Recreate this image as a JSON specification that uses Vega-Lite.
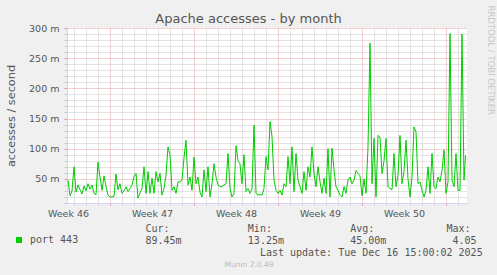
{
  "$schema": "https://vega.github.io/schema/vega-lite/v6.json",
  "width": 400,
  "height": 175,
  "autosize": {"type": "none"},
  "padding": {"left": 67, "top": 28, "right": 30, "bottom": 72},
  "background": "#F0F0F0",
  "config": {"font": "DejaVu Sans", "view": {"fill": "#FFFFFF", "stroke": null}},
  "title": {"text": "Apache accesses - by month", "frame": "group", "fontSize": 13, "fontWeight": "normal", "color": "#555555", "anchor": "middle", "dx": -18.5, "dy": 35, "baseline": "alphabetic", "offset": 4.5},
  "data": {
    "format": {"parse": {"t": "utc:'%Y-%m-%d %H:%M'"}},
    "values": [
      {"t": "2025-11-13 12:00", "v": 48}, {"t": "2025-11-13 16:00", "v": 22}, {"t": "2025-11-13 20:00", "v": 30},
      {"t": "2025-11-14 00:00", "v": 70}, {"t": "2025-11-14 04:00", "v": 28}, {"t": "2025-11-14 08:00", "v": 40}, {"t": "2025-11-14 12:00", "v": 32}, {"t": "2025-11-14 16:00", "v": 25}, {"t": "2025-11-14 20:00", "v": 38},
      {"t": "2025-11-15 00:00", "v": 30}, {"t": "2025-11-15 04:00", "v": 42}, {"t": "2025-11-15 08:00", "v": 33}, {"t": "2025-11-15 12:00", "v": 40}, {"t": "2025-11-15 16:00", "v": 26}, {"t": "2025-11-15 20:00", "v": 24},
      {"t": "2025-11-16 00:00", "v": 78}, {"t": "2025-11-16 04:00", "v": 53}, {"t": "2025-11-16 08:00", "v": 31}, {"t": "2025-11-16 12:00", "v": 55}, {"t": "2025-11-16 16:00", "v": 37}, {"t": "2025-11-16 20:00", "v": 23},
      {"t": "2025-11-17 00:00", "v": 20}, {"t": "2025-11-17 04:00", "v": 20}, {"t": "2025-11-17 08:00", "v": 21}, {"t": "2025-11-17 12:00", "v": 58}, {"t": "2025-11-17 16:00", "v": 32}, {"t": "2025-11-17 20:00", "v": 42},
      {"t": "2025-11-18 00:00", "v": 26}, {"t": "2025-11-18 04:00", "v": 30}, {"t": "2025-11-18 08:00", "v": 37}, {"t": "2025-11-18 12:00", "v": 29}, {"t": "2025-11-18 16:00", "v": 34}, {"t": "2025-11-18 20:00", "v": 40},
      {"t": "2025-11-19 00:00", "v": 54}, {"t": "2025-11-19 04:00", "v": 59}, {"t": "2025-11-19 08:00", "v": 18}, {"t": "2025-11-19 12:00", "v": 27}, {"t": "2025-11-19 16:00", "v": 34}, {"t": "2025-11-19 20:00", "v": 70},
      {"t": "2025-11-20 00:00", "v": 26}, {"t": "2025-11-20 04:00", "v": 62}, {"t": "2025-11-20 08:00", "v": 26}, {"t": "2025-11-20 12:00", "v": 51}, {"t": "2025-11-20 16:00", "v": 26}, {"t": "2025-11-20 20:00", "v": 62},
      {"t": "2025-11-21 00:00", "v": 45}, {"t": "2025-11-21 04:00", "v": 59}, {"t": "2025-11-21 08:00", "v": 23}, {"t": "2025-11-21 12:00", "v": 34}, {"t": "2025-11-21 16:00", "v": 57}, {"t": "2025-11-21 20:00", "v": 103},
      {"t": "2025-11-22 00:00", "v": 90}, {"t": "2025-11-22 04:00", "v": 31}, {"t": "2025-11-22 08:00", "v": 37}, {"t": "2025-11-22 12:00", "v": 26}, {"t": "2025-11-22 16:00", "v": 45}, {"t": "2025-11-22 20:00", "v": 45},
      {"t": "2025-11-23 00:00", "v": 48}, {"t": "2025-11-23 04:00", "v": 85}, {"t": "2025-11-23 08:00", "v": 114}, {"t": "2025-11-23 12:00", "v": 40}, {"t": "2025-11-23 16:00", "v": 53}, {"t": "2025-11-23 20:00", "v": 31},
      {"t": "2025-11-24 00:00", "v": 86}, {"t": "2025-11-24 04:00", "v": 42}, {"t": "2025-11-24 08:00", "v": 53}, {"t": "2025-11-24 12:00", "v": 28}, {"t": "2025-11-24 16:00", "v": 20}, {"t": "2025-11-24 20:00", "v": 65},
      {"t": "2025-11-25 00:00", "v": 29}, {"t": "2025-11-25 04:00", "v": 70}, {"t": "2025-11-25 08:00", "v": 20}, {"t": "2025-11-25 12:00", "v": 42}, {"t": "2025-11-25 16:00", "v": 75}, {"t": "2025-11-25 20:00", "v": 53},
      {"t": "2025-11-26 00:00", "v": 40}, {"t": "2025-11-26 04:00", "v": 37}, {"t": "2025-11-26 08:00", "v": 37}, {"t": "2025-11-26 12:00", "v": 40}, {"t": "2025-11-26 16:00", "v": 42}, {"t": "2025-11-26 20:00", "v": 92},
      {"t": "2025-11-27 00:00", "v": 34}, {"t": "2025-11-27 04:00", "v": 20}, {"t": "2025-11-27 08:00", "v": 26}, {"t": "2025-11-27 12:00", "v": 105}, {"t": "2025-11-27 16:00", "v": 80}, {"t": "2025-11-27 20:00", "v": 75},
      {"t": "2025-11-28 00:00", "v": 42}, {"t": "2025-11-28 04:00", "v": 90}, {"t": "2025-11-28 08:00", "v": 29}, {"t": "2025-11-28 12:00", "v": 34}, {"t": "2025-11-28 16:00", "v": 26}, {"t": "2025-11-28 20:00", "v": 34},
      {"t": "2025-11-29 00:00", "v": 139}, {"t": "2025-11-29 04:00", "v": 26}, {"t": "2025-11-29 08:00", "v": 23}, {"t": "2025-11-29 12:00", "v": 24}, {"t": "2025-11-29 16:00", "v": 23}, {"t": "2025-11-29 20:00", "v": 34},
      {"t": "2025-11-30 00:00", "v": 87}, {"t": "2025-11-30 04:00", "v": 65}, {"t": "2025-11-30 08:00", "v": 145}, {"t": "2025-11-30 12:00", "v": 120}, {"t": "2025-11-30 16:00", "v": 48}, {"t": "2025-11-30 20:00", "v": 31},
      {"t": "2025-12-01 00:00", "v": 26}, {"t": "2025-12-01 04:00", "v": 31}, {"t": "2025-12-01 08:00", "v": 23}, {"t": "2025-12-01 12:00", "v": 42}, {"t": "2025-12-01 16:00", "v": 37}, {"t": "2025-12-01 20:00", "v": 87},
      {"t": "2025-12-02 00:00", "v": 42}, {"t": "2025-12-02 04:00", "v": 103}, {"t": "2025-12-02 08:00", "v": 29}, {"t": "2025-12-02 12:00", "v": 92}, {"t": "2025-12-02 16:00", "v": 48}, {"t": "2025-12-02 20:00", "v": 37},
      {"t": "2025-12-03 00:00", "v": 26}, {"t": "2025-12-03 04:00", "v": 62}, {"t": "2025-12-03 08:00", "v": 31}, {"t": "2025-12-03 12:00", "v": 70}, {"t": "2025-12-03 16:00", "v": 53}, {"t": "2025-12-03 20:00", "v": 103},
      {"t": "2025-12-04 00:00", "v": 59}, {"t": "2025-12-04 04:00", "v": 37}, {"t": "2025-12-04 08:00", "v": 70}, {"t": "2025-12-04 12:00", "v": 45}, {"t": "2025-12-04 16:00", "v": 26}, {"t": "2025-12-04 20:00", "v": 51},
      {"t": "2025-12-05 00:00", "v": 26}, {"t": "2025-12-05 04:00", "v": 100}, {"t": "2025-12-05 08:00", "v": 20}, {"t": "2025-12-05 12:00", "v": 101}, {"t": "2025-12-05 16:00", "v": 65}, {"t": "2025-12-05 20:00", "v": 37},
      {"t": "2025-12-06 00:00", "v": 31}, {"t": "2025-12-06 04:00", "v": 23}, {"t": "2025-12-06 08:00", "v": 20}, {"t": "2025-12-06 12:00", "v": 37}, {"t": "2025-12-06 16:00", "v": 26}, {"t": "2025-12-06 20:00", "v": 48},
      {"t": "2025-12-07 00:00", "v": 53}, {"t": "2025-12-07 04:00", "v": 42}, {"t": "2025-12-07 08:00", "v": 48}, {"t": "2025-12-07 12:00", "v": 64}, {"t": "2025-12-07 16:00", "v": 59}, {"t": "2025-12-07 20:00", "v": 55},
      {"t": "2025-12-08 00:00", "v": 22}, {"t": "2025-12-08 04:00", "v": 50}, {"t": "2025-12-08 08:00", "v": 26}, {"t": "2025-12-08 12:00", "v": 103}, {"t": "2025-12-08 16:00", "v": 275}, {"t": "2025-12-08 20:00", "v": 42},
      {"t": "2025-12-09 00:00", "v": 117}, {"t": "2025-12-09 04:00", "v": 20}, {"t": "2025-12-09 08:00", "v": 122}, {"t": "2025-12-09 12:00", "v": 119}, {"t": "2025-12-09 16:00", "v": 59}, {"t": "2025-12-09 20:00", "v": 80},
      {"t": "2025-12-10 00:00", "v": 117}, {"t": "2025-12-10 04:00", "v": 37}, {"t": "2025-12-10 08:00", "v": 34}, {"t": "2025-12-10 12:00", "v": 32}, {"t": "2025-12-10 16:00", "v": 92}, {"t": "2025-12-10 20:00", "v": 37},
      {"t": "2025-12-11 00:00", "v": 56}, {"t": "2025-12-11 04:00", "v": 122}, {"t": "2025-12-11 08:00", "v": 42}, {"t": "2025-12-11 12:00", "v": 62}, {"t": "2025-12-11 16:00", "v": 114}, {"t": "2025-12-11 20:00", "v": 50},
      {"t": "2025-12-12 00:00", "v": 20}, {"t": "2025-12-12 04:00", "v": 53}, {"t": "2025-12-12 08:00", "v": 136}, {"t": "2025-12-12 12:00", "v": 128}, {"t": "2025-12-12 16:00", "v": 42}, {"t": "2025-12-12 20:00", "v": 45},
      {"t": "2025-12-13 00:00", "v": 31}, {"t": "2025-12-13 04:00", "v": 20}, {"t": "2025-12-13 08:00", "v": 31}, {"t": "2025-12-13 12:00", "v": 70}, {"t": "2025-12-13 16:00", "v": 26}, {"t": "2025-12-13 20:00", "v": 92},
      {"t": "2025-12-14 00:00", "v": 37}, {"t": "2025-12-14 04:00", "v": 34}, {"t": "2025-12-14 08:00", "v": 53}, {"t": "2025-12-14 12:00", "v": 45}, {"t": "2025-12-14 16:00", "v": 64}, {"t": "2025-12-14 20:00", "v": 98},
      {"t": "2025-12-15 00:00", "v": 26}, {"t": "2025-12-15 04:00", "v": 45}, {"t": "2025-12-15 08:00", "v": 291}, {"t": "2025-12-15 12:00", "v": 48}, {"t": "2025-12-15 16:00", "v": 37}, {"t": "2025-12-15 20:00", "v": 92},
      {"t": "2025-12-16 00:00", "v": 31}, {"t": "2025-12-16 04:00", "v": 31}, {"t": "2025-12-16 08:00", "v": 290}, {"t": "2025-12-16 12:00", "v": 48}, {"t": "2025-12-16 15:00", "v": 89}
    ]
  },
  "layer": [
    {
      "mark": {"type": "line", "strokeWidth": 1},
      "encoding": {
        "x": {
          "field": "t", "type": "temporal",
          "scale": {"type": "utc", "domain": [1763028000000, 1765908000000]},
          "axis": {
            "values": [1763035200000, 1763640000000, 1764244800000, 1764849600000, 1765454400000,
              1763078400000, 1763164800000, 1763251200000, 1763337600000, 1763424000000, 1763510400000, 1763596800000,
              1763683200000, 1763769600000, 1763856000000, 1763942400000, 1764028800000, 1764115200000, 1764201600000,
              1764288000000, 1764374400000, 1764460800000, 1764547200000, 1764633600000, 1764720000000, 1764806400000,
              1764892800000, 1764979200000, 1765065600000, 1765152000000, 1765238400000, 1765324800000, 1765411200000,
              1765497600000, 1765584000000, 1765670400000, 1765756800000, 1765843200000],
            "labelExpr": "utchours(datum.value) === 12 ? 'Week ' + utcFormat(datum.value, '%V') : ''",
            "labelFontSize": 9.5, "labelColor": "#555555", "labelPadding": 3,
            "labelFlush": false, "labelOverlap": false, "labelBound": false,
            "tickSize": 2,
            "tickColor": {"condition": {"test": "utcday(datum.value) === 1 && utchours(datum.value) === 0", "value": "#E89090"}, "value": "#C8C8C8"},
            "tickOpacity": {"condition": {"test": "utchours(datum.value) === 12", "value": 0}, "value": 1},
            "grid": true,
            "gridDash": [1, 1],
            "gridColor": {"condition": {"test": "utcday(datum.value) === 1 && utchours(datum.value) === 0", "value": "#E8A0A0"}, "value": "#C8C8C8"},
            "gridOpacity": {"condition": {"test": "utchours(datum.value) === 12", "value": 0}, "value": 1},
            "domainColor": "#CFD6F8",
            "title": [
              "Cur:\u00a0\u00a0\u00a0\u00a0\u00a0\u00a0\u00a0\u00a0\u00a0\u00a0\u00a0\u00a0\u00a0Min:\u00a0\u00a0\u00a0\u00a0\u00a0\u00a0\u00a0\u00a0\u00a0\u00a0\u00a0\u00a0\u00a0Avg:\u00a0\u00a0\u00a0\u00a0\u00a0\u00a0\u00a0\u00a0\u00a0\u00a0\u00a0\u00a0Max:",
              "89.45m\u00a0\u00a0\u00a0\u00a0\u00a0\u00a0\u00a0\u00a0\u00a0\u00a0\u00a013.25m\u00a0\u00a0\u00a0\u00a0\u00a0\u00a0\u00a0\u00a0\u00a0\u00a0\u00a045.00m\u00a0\u00a0\u00a0\u00a0\u00a0\u00a0\u00a0\u00a0\u00a0\u00a0\u00a04.05",
              "\u200b\u00a0\u00a0\u00a0\u00a0\u00a0\u00a0\u00a0\u00a0\u00a0\u00a0\u00a0\u00a0\u00a0\u00a0\u00a0\u00a0\u00a0\u00a0\u00a0Last update: Tue Dec 16 15:00:02 2025"
            ],
            "titleFont": "DejaVu Sans Mono", "titleFontSize": 10, "titleFontWeight": "normal", "titleColor": "#555555",
            "titleAlign": "left", "titleAnchor": "start", "titleBaseline": "top",
            "titleX": 78, "titleY": 20.5, "titleLineHeight": 12
          }
        },
        "y": {
          "field": "v", "type": "quantitative",
          "scale": {"domain": [10, 300], "nice": false, "zero": false},
          "axis": {
            "values": [10, 20, 30, 40, 50, 60, 70, 80, 90, 100, 110, 120, 130, 140, 150, 160, 170, 180, 190, 200, 210, 220, 230, 240, 250, 260, 270, 280, 290, 300],
            "labelExpr": "datum.value % 50 === 0 ? datum.value + ' m' : ''",
            "labelFontSize": 9.5, "labelColor": "#555555", "labelPadding": 5,
            "labelOverlap": false, "labelBound": false, "labelFlush": false,
            "tickSize": 3,
            "tickColor": {"condition": {"test": "datum.value % 50 === 0", "value": "#E89090"}, "value": "#C8C8C8"},
            "grid": true,
            "gridDash": [1, 1],
            "gridColor": {"condition": {"test": "datum.value % 50 === 0", "value": "#E8A0A0"}, "value": "#C8C8C8"},
            "domainColor": "#CFD6F8",
            "title": "accesses / second",
            "titleFontSize": 11.3, "titleFontWeight": "normal", "titleColor": "#555555",
            "titleAngle": -90, "titleAlign": "center", "titleBaseline": "middle",
            "titleX": -56, "titleY": 87.5
          }
        },
        "color": {
          "datum": "port 443",
          "scale": {"range": ["#00CC00"]},
          "legend": {
            "orient": "none", "legendX": -53, "legendY": 207, "title": null, "padding": 0,
            "symbolType": "square", "symbolSize": 36,
            "labelFont": "DejaVu Sans Mono", "labelFontSize": 10, "labelColor": "#555555", "labelOffset": 6,
            "encode": {"symbols": {"update": {"fill": {"value": "#00CC00"}, "stroke": {"value": "#00CC00"}, "strokeWidth": {"value": 0}, "opacity": {"value": 1}}}}
          }
        }
      }
    },
    {
      "mark": {"type": "line", "strokeOpacity": 0},
      "encoding": {
        "x": {
          "field": "t", "type": "temporal",
          "axis": {
            "orient": "bottom", "labels": false, "ticks": false, "domain": false, "grid": false,
            "title": "Munin 2.0.49", "titleFont": "DejaVu Sans", "titleFontSize": 7.5, "titleFontWeight": "normal", "titleColor": "#BBBBBB",
            "titleX": 181.5, "titleY": 63.7, "titleAlign": "center", "titleBaseline": "alphabetic"
          }
        },
        "y": {
          "field": "v", "type": "quantitative",
          "axis": {
            "orient": "right", "labels": false, "ticks": false, "domain": false, "grid": false,
            "title": "RRDTOOL / TOBI OETIKER", "titleFontSize": 8.5, "titleFontWeight": "normal", "titleColor": "#C8C8C8",
            "titleAngle": 90, "titleAlign": "left", "titleBaseline": "middle", "titleX": 23, "titleY": -23
          }
        }
      }
    }
  ],
  "resolve": {"axis": {"x": "independent", "y": "independent"}}
}
